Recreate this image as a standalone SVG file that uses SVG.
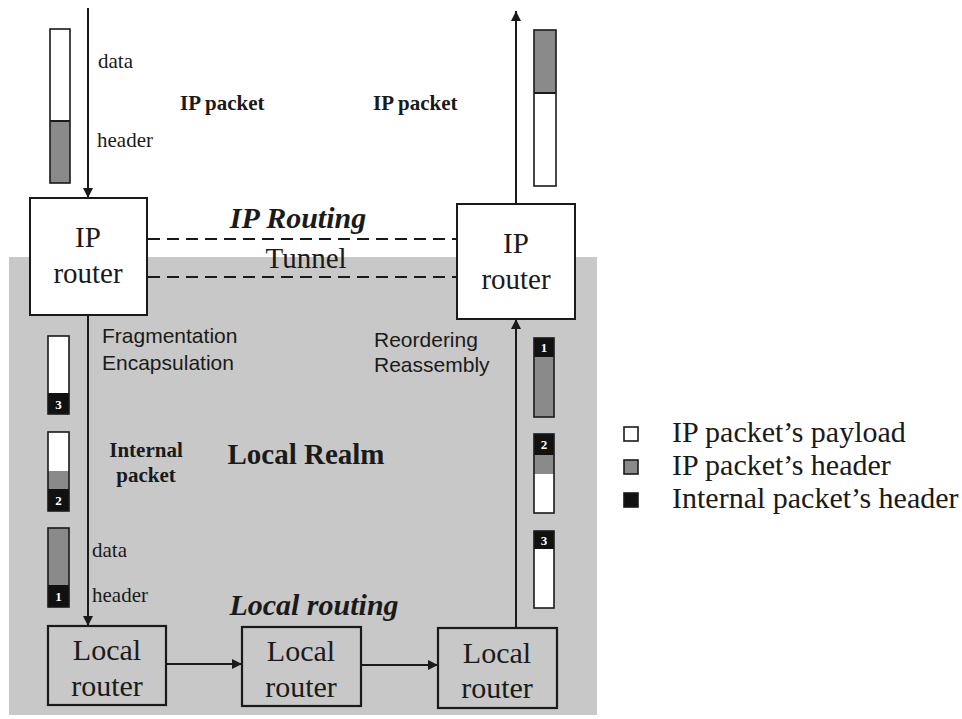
<svg xmlns="http://www.w3.org/2000/svg" width="962" height="719" viewBox="0 0 962 719">
  <style>
    .serif { font-family: "Liberation Serif", "Times New Roman", serif; fill: #1a1a1a; }
    .sans { font-family: "Liberation Sans", Arial, sans-serif; fill: #1a1a1a; }
    .box { fill: #ffffff; stroke: #1a1a1a; stroke-width: 2; }
    .lbox { fill: #c8c8c8; stroke: #1a1a1a; stroke-width: 2.2; }
    .line { stroke: #1a1a1a; stroke-width: 2; fill: none; }
    .dash { stroke: #1a1a1a; stroke-width: 2; fill: none; stroke-dasharray: 12 7; }
    .pw { fill: #ffffff; }
    .pg { fill: #8a8a8a; }
    .pb { fill: #111111; }
    .pout { fill: none; stroke: #1a1a1a; stroke-width: 1.6; }
    .num { font-family: "Liberation Serif", serif; font-weight: bold; font-size: 13px; fill: #ffffff; text-anchor: middle; }
  </style>
  <defs>
    <marker id="arrow" viewBox="0 0 10 10" refX="10" refY="5" markerWidth="5" markerHeight="5" orient="auto" markerUnits="strokeWidth">
      <path d="M0,0 L10,5 L0,10 z" fill="#1a1a1a"/>
    </marker>
  </defs>

  <rect width="962" height="719" fill="#ffffff"/>
  <!-- local realm shading -->
  <rect id="local-realm" x="9" y="257" width="588" height="458" fill="#c8c8c8"/>

  <!-- connectors -->
  <g id="connectors">
    <line class="line" x1="88" y1="8" x2="88" y2="198" marker-end="url(#arrow)"/>
    <line class="line" x1="88" y1="315" x2="88" y2="626" marker-end="url(#arrow)"/>
    <line class="line" x1="166" y1="664" x2="242" y2="664" marker-end="url(#arrow)"/>
    <line class="line" x1="361" y1="665" x2="438" y2="665" marker-end="url(#arrow)"/>
    <line class="line" x1="516" y1="628" x2="516" y2="319" marker-end="url(#arrow)"/>
    <line class="line" x1="516" y1="204" x2="516" y2="11" marker-end="url(#arrow)"/>
    <line class="dash" x1="148" y1="239" x2="457" y2="239"/>
    <line class="dash" x1="148" y1="277" x2="457" y2="277"/>
  </g>

  <!-- IP routers -->
  <g id="ip-router-in">
    <rect class="box" x="30" y="198" width="117" height="117"/>
    <text class="serif" x="88" y="247" font-size="29" text-anchor="middle">IP</text>
    <text class="serif" x="88" y="283" font-size="29" text-anchor="middle">router</text>
  </g>
  <g id="ip-router-out">
    <rect class="box" x="457" y="204" width="118" height="115"/>
    <text class="serif" x="516" y="253" font-size="29" text-anchor="middle">IP</text>
    <text class="serif" x="516" y="289" font-size="29" text-anchor="middle">router</text>
  </g>

  <!-- local routers -->
  <g id="local-router-1">
    <rect class="lbox" x="48" y="626" width="118" height="79"/>
    <text class="serif" x="107" y="660" font-size="30" text-anchor="middle">Local</text>
    <text class="serif" x="107" y="696" font-size="30" text-anchor="middle">router</text>
  </g>
  <g id="local-router-2">
    <rect class="lbox" x="242" y="627" width="119" height="79"/>
    <text class="serif" x="301" y="661" font-size="30" text-anchor="middle">Local</text>
    <text class="serif" x="301" y="697" font-size="30" text-anchor="middle">router</text>
  </g>
  <g id="local-router-3">
    <rect class="lbox" x="438" y="628" width="119" height="80"/>
    <text class="serif" x="497" y="663" font-size="30" text-anchor="middle">Local</text>
    <text class="serif" x="497" y="698" font-size="30" text-anchor="middle">router</text>
  </g>

  <!-- incoming IP packet -->
  <g id="packet-in">
    <rect class="pw" x="50" y="29" width="20" height="92"/>
    <rect class="pg" x="50" y="121" width="20" height="62"/>
    <rect class="pout" x="50" y="29" width="20" height="154"/>
    <line class="line" x1="50" y1="121" x2="70" y2="121" stroke-width="1.6"/>
  </g>
  <!-- outgoing IP packet -->
  <g id="packet-out">
    <rect class="pg" x="534" y="30" width="22" height="63"/>
    <rect class="pw" x="534" y="93" width="22" height="93"/>
    <rect class="pout" x="534" y="30" width="22" height="156"/>
    <line class="line" x1="534" y1="93" x2="556" y2="93" stroke-width="1.6"/>
  </g>

  <!-- fragments before local routing -->
  <g id="frag-left-3">
    <rect class="pw" x="48" y="336" width="21" height="57"/>
    <rect class="pb" x="48" y="393" width="21" height="21"/>
    <rect class="pout" x="48" y="336" width="21" height="78"/>
    <text class="num" x="58.5" y="409">3</text>
  </g>
  <g id="frag-left-2">
    <rect class="pw" x="48" y="432" width="21" height="39"/>
    <rect class="pg" x="48" y="471" width="21" height="18"/>
    <rect class="pb" x="48" y="489" width="21" height="22"/>
    <rect class="pout" x="48" y="432" width="21" height="79"/>
    <text class="num" x="58.5" y="505">2</text>
  </g>
  <g id="frag-left-1">
    <rect class="pg" x="48" y="528" width="21" height="57"/>
    <rect class="pb" x="48" y="585" width="21" height="22"/>
    <rect class="pout" x="48" y="528" width="21" height="79"/>
    <text class="num" x="58.5" y="601">1</text>
  </g>

  <!-- fragments after local routing -->
  <g id="frag-right-1">
    <rect class="pb" x="534" y="338" width="20" height="19"/>
    <rect class="pg" x="534" y="357" width="20" height="60"/>
    <rect class="pout" x="534" y="338" width="20" height="79"/>
    <text class="num" x="544" y="352">1</text>
  </g>
  <g id="frag-right-2">
    <rect class="pb" x="534" y="434" width="20" height="21"/>
    <rect class="pg" x="534" y="455" width="20" height="19"/>
    <rect class="pw" x="534" y="474" width="20" height="39"/>
    <rect class="pout" x="534" y="434" width="20" height="79"/>
    <text class="num" x="544" y="449">2</text>
  </g>
  <g id="frag-right-3">
    <rect class="pb" x="534" y="531" width="20" height="18"/>
    <rect class="pw" x="534" y="549" width="20" height="59"/>
    <rect class="pout" x="534" y="531" width="20" height="77"/>
    <text class="num" x="544" y="545">3</text>
  </g>

  <!-- labels -->
  <g id="labels">
    <text class="serif" x="98" y="68" font-size="21">data</text>
    <text class="serif" x="97" y="147" font-size="21">header</text>
    <text class="serif" x="180" y="110" font-size="21" font-weight="bold">IP packet</text>
    <text class="serif" x="373" y="110" font-size="21" font-weight="bold">IP packet</text>
    <text class="serif" x="298" y="228" font-size="30" font-weight="bold" font-style="italic" text-anchor="middle">IP Routing</text>
    <text class="serif" x="306" y="268" font-size="29" text-anchor="middle">Tunnel</text>
    <text class="sans" x="102" y="343" font-size="21">Fragmentation</text>
    <text class="sans" x="102" y="370" font-size="21">Encapsulation</text>
    <text class="sans" x="374" y="347" font-size="21">Reordering</text>
    <text class="sans" x="374" y="372" font-size="21">Reassembly</text>
    <text class="serif" x="146" y="457" font-size="21" font-weight="bold" text-anchor="middle">Internal</text>
    <text class="serif" x="146" y="482" font-size="21" font-weight="bold" text-anchor="middle">packet</text>
    <text class="serif" x="306" y="464" font-size="29" font-weight="bold" text-anchor="middle">Local Realm</text>
    <text class="serif" x="92" y="557" font-size="21">data</text>
    <text class="serif" x="92" y="602" font-size="21">header</text>
    <text class="serif" x="314" y="615" font-size="30" font-weight="bold" font-style="italic" text-anchor="middle">Local routing</text>
  </g>

  <!-- legend -->
  <g id="legend">
    <rect x="624" y="427" width="14" height="14" fill="#ffffff" stroke="#1a1a1a" stroke-width="1.6"/>
    <text class="serif" x="672" y="442" font-size="30">IP packet’s payload</text>
    <rect x="624" y="460" width="14" height="14" fill="#8a8a8a" stroke="#1a1a1a" stroke-width="1.6"/>
    <text class="serif" x="672" y="475" font-size="30">IP packet’s header</text>
    <rect x="624" y="493" width="14" height="14" fill="#111111" stroke="#1a1a1a" stroke-width="1.6"/>
    <text class="serif" x="672" y="508" font-size="30">Internal packet’s header</text>
  </g>
</svg>
